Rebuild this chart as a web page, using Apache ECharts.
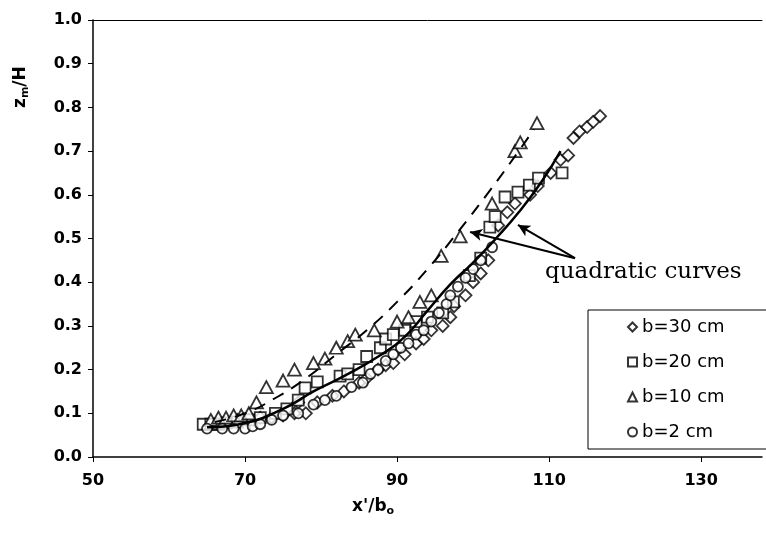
<!DOCTYPE html>
<html>
<head>
<meta charset="utf-8">
<script src="https://cdn.jsdelivr.net/npm/echarts@6/dist/echarts.min.js"></script>
<style>
  html, body { margin: 0; padding: 0; background: #fff; }
  #chart { width: 766px; height: 536px; }
</style>
</head>
<body>
<div id="chart"></div>
<script>
// measured points, x'/b0 vs zm/H
const b30 = [
  [69, 0.085], [70.5, 0.085], [72, 0.09], [73.5, 0.09], [75, 0.095], [76.5, 0.1], [78, 0.1],
  [77, 0.125], [79.5, 0.125], [81.5, 0.14], [83, 0.15], [85, 0.17], [86, 0.18], [87.5, 0.2],
  [88.5, 0.21], [89.5, 0.215], [91, 0.235], [92.5, 0.26], [93.5, 0.27], [94.5, 0.29], [96, 0.3],
  [97, 0.32], [97.5, 0.345], [99, 0.37], [100, 0.4], [101, 0.42], [102, 0.45], [103.3, 0.53],
  [104.5, 0.56], [105.5, 0.58], [107.5, 0.6], [108.5, 0.62], [110.2, 0.65], [111.5, 0.68],
  [112.5, 0.69], [113.2, 0.73], [114, 0.745], [115, 0.755], [115.8, 0.767], [116.7, 0.78]
];
const b20 = [
  [64.5, 0.075], [65.5, 0.075], [66.5, 0.075], [67.5, 0.078], [69, 0.08], [70.5, 0.085], [72, 0.09],
  [74, 0.1], [75.5, 0.11], [77, 0.13], [77.9, 0.158], [79.5, 0.172], [82.5, 0.185], [83.5, 0.19],
  [85, 0.2], [86, 0.23], [87.8, 0.25], [88.5, 0.27], [89.5, 0.28], [91, 0.29], [92.5, 0.31],
  [94, 0.32], [96, 0.33], [97.4, 0.355], [99.5, 0.415], [101, 0.455], [102.2, 0.526], [102.9, 0.55],
  [104.2, 0.595], [105.9, 0.606], [107.4, 0.622], [108.6, 0.638], [111.7, 0.65]
];
const b10 = [
  [65.5, 0.085], [66.5, 0.09], [67.5, 0.09], [68.5, 0.095], [69.5, 0.095], [70.5, 0.1], [71.5, 0.125],
  [72.8, 0.16], [75, 0.175], [76.5, 0.2], [79, 0.215], [80.5, 0.225], [82, 0.25], [83.5, 0.265],
  [84.5, 0.28], [87, 0.29], [90, 0.31], [91.5, 0.32], [93, 0.355], [94.5, 0.37], [95.8, 0.46],
  [98.3, 0.505], [102.5, 0.58], [105.5, 0.70], [106.2, 0.72], [108.4, 0.764]
];
const b2 = [
  [65, 0.065], [67, 0.065], [68.5, 0.065], [70, 0.065], [71, 0.07], [72, 0.075], [73.5, 0.085],
  [75, 0.095], [77, 0.1], [79, 0.12], [80.5, 0.13], [82, 0.14], [84, 0.16], [85.5, 0.17],
  [86.5, 0.19], [87.5, 0.2], [88.5, 0.22], [89.5, 0.235], [90.5, 0.25], [91.5, 0.26], [92.5, 0.28],
  [93.5, 0.29], [94.5, 0.31], [95.5, 0.33], [96.5, 0.35], [97, 0.37], [98, 0.39], [99, 0.41],
  [100, 0.43], [101, 0.45], [102.5, 0.48]
];
// fitted curves
const curveSolid = [
  [65, 0.068], [70, 0.078], [75, 0.11], [79, 0.15], [83, 0.185], [88, 0.235], [91, 0.275],
  [94, 0.335], [97, 0.395], [100, 0.445], [103, 0.5], [106, 0.56], [109, 0.63], [111.5, 0.70]
];
const curveDashed = [
  [66, 0.08], [70, 0.1], [74, 0.135], [78, 0.18], [82, 0.235], [86, 0.29], [90, 0.355],
  [94, 0.43], [98, 0.515], [102, 0.605], [106, 0.70], [108, 0.75]
];
const xTicks = [50, 70, 90, 110, 130];
const legendNames = ['b=30 cm', 'b=20 cm', 'b=10 cm', 'b=2 cm'];

const chart = echarts.init(document.getElementById('chart'));

const hollow = { color: '#fff', borderColor: '#000', borderWidth: 1.8 };
const sans = 'DejaVu Sans, Liberation Sans, Arial';
const axisFont = { color: '#000', fontSize: 16, fontWeight: 'bold', fontFamily: sans };

function scatter(name, symbol, size, data) {
  return {
    name, type: 'scatter', symbol, symbolSize: size, data,
    itemStyle: hollow, z: 3
  };
}

chart.setOption({
  animation: false,
  backgroundColor: '#fff',
  // the original plot is cut off at the right edge, so the x range stops near 138
  grid: { left: 93, top: 20, right: 4, bottom: 79 },
  xAxis: [
    {
      type: 'value', min: 50, max: 138, interval: 20,
      axisLine: { lineStyle: { color: '#000', width: 1.5 } },
      axisTick: { show: true, length: 5, lineStyle: { color: '#000' } },
      axisLabel: {
        ...axisFont, margin: 16, showMaxLabel: false,
        formatter: v => xTicks.includes(v) ? String(v) : ''
      },
      splitLine: { show: false }
    },
    {
      // top frame line
      type: 'value', position: 'top', min: 50, max: 138,
      axisLine: { show: true, lineStyle: { color: '#000', width: 1 } },
      axisTick: { show: false }, axisLabel: { show: false }, splitLine: { show: false }
    }
  ],
  yAxis: {
    type: 'value', min: 0, max: 1, interval: 0.1,
    axisLine: { show: true, lineStyle: { color: '#000', width: 1.5 } },
    axisTick: { show: true, length: 5, lineStyle: { color: '#000' } },
    axisLabel: { ...axisFont, margin: 11, formatter: v => v.toFixed(1) },
    splitLine: { show: false }
  },
  legend: {
    data: legendNames,
    orient: 'vertical',
    left: 588, top: 310,
    padding: [8, 60, 8, 39],
    itemGap: 17,
    itemWidth: 9, itemHeight: 9,
    borderColor: '#000', borderWidth: 1,
    backgroundColor: '#fff',
    textStyle: { color: '#000', fontSize: 18, fontFamily: sans }
  },
  series: [
    scatter('b=30 cm', 'diamond', [12, 12], b30),
    scatter('b=20 cm', 'rect', [11, 11], b20),
    scatter('b=10 cm', 'triangle', [13, 12], b10),
    scatter('b=2 cm', 'circle', 10, b2),
    {
      name: 'solid fit', type: 'line', data: curveSolid, smooth: true,
      showSymbol: false, lineStyle: { color: '#000', width: 2.5 }, z: 4
    },
    {
      name: 'dashed fit', type: 'line', data: curveDashed, smooth: true,
      showSymbol: false, lineStyle: { color: '#000', width: 2, type: [12, 9] }, z: 4,
      markLine: {
        silent: true,
        symbol: ['none', 'arrow'],
        symbolSize: [9, 12],
        label: { show: false },
        lineStyle: { color: '#000', width: 2, type: 'solid' },
        data: [
          [{ coord: [113.4, 0.455] }, { coord: [99.6, 0.515] }],
          [{ coord: [113.4, 0.455] }, { coord: [105.9, 0.531] }]
        ]
      }
    }
  ],
  graphic: [
    {
      type: 'text', left: 545, top: 261,
      style: { text: 'quadratic curves', fill: '#000', font: '23px "DejaVu Serif", "Liberation Serif", serif' }
    },
    {
      type: 'text', left: 352, top: 498,
      style: {
        text: "{b|x'/b}{s|o}",
        rich: {
          b: { fontSize: 17, fontWeight: 'bold', fontFamily: sans, fill: '#000' },
          s: { fontSize: 11, fontWeight: 'bold', fontFamily: sans, fill: '#000', padding: [9, 0, 0, 0] }
        }
      }
    },
    {
      type: 'text', x: 21, y: 108, rotation: Math.PI / 2,
      style: {
        text: '{b|z}{s|m}{b|/H}',
        textVerticalAlign: 'middle',
        rich: {
          b: { fontSize: 17, fontWeight: 'bold', fontFamily: sans, fill: '#000' },
          s: { fontSize: 11, fontWeight: 'bold', fontFamily: sans, fill: '#000', padding: [9, 0, 0, 0] }
        }
      }
    }
  ]
});
</script>
</body>
</html>
